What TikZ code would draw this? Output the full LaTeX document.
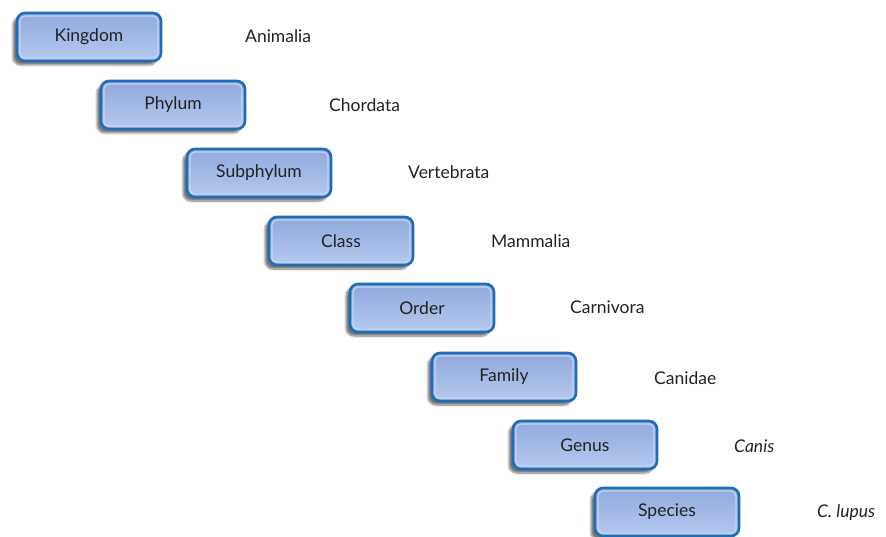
\documentclass[tikz,border=0pt]{standalone}
\usepackage{fontspec}
\setmainfont{Lato}
\usetikzlibrary{shadows.blur}
\definecolor{bordblue}{HTML}{1E6DB6}
\definecolor{filltop}{HTML}{90AADD}
\definecolor{fillbot}{HTML}{B6C8EE}
\definecolor{hilite}{HTML}{C4D3F2}
\definecolor{txt}{HTML}{222222}
\tikzset{
  rankbox/.style={draw=bordblue, line width=2.6pt, rounded corners=8pt,
    minimum width=144pt, minimum height=48pt,
    top color=filltop, bottom color=fillbot,
    font=\fontsize{17.5}{20}\selectfont, text=txt,
    blur shadow={shadow xshift=-4pt, shadow yshift=-4pt, shadow blur steps=8, shadow opacity=55},
    path picture={\draw[hilite, line width=1.2pt, rounded corners=5pt]
      ([xshift=3pt,yshift=-3pt]path picture bounding box.north west) rectangle
      ([xshift=-3pt,yshift=3pt]path picture bounding box.south east);}},
  taxon/.style={anchor=west, inner sep=0pt, font=\fontsize{17.5}{20}\selectfont, text=txt},
}
\begin{document}
\begin{tikzpicture}[x=1pt,y=-1pt]
\useasboundingbox (0,0) rectangle (886,537);
\node[rankbox] (kingdom) at (89,37) {Kingdom};
\node[rankbox] (phylum) at (173,105) {Phylum};
\node[rankbox] (subphylum) at (259,173) {Subphylum};
\node[rankbox] (class) at (341,241) {Class};
\node[rankbox] (order) at (422,308) {Order};
\node[rankbox] (family) at (504,377) {Family};
\node[rankbox] (genus) at (585,445) {Genus};
\node[rankbox] (species) at (667,512) {Species};
\node[taxon] (animalia) at (245,36) {Animalia};
\node[taxon] (chordata) at (329,105) {Chordata};
\node[taxon] (vertebrata) at (408,172) {Vertebrata};
\node[taxon] (mammalia) at (491,241) {Mammalia};
\node[taxon] (carnivora) at (570,307) {Carnivora};
\node[taxon] (canidae) at (654,378) {Canidae};
\node[taxon] (canis) at (734,446) {\itshape Canis};
\node[taxon] (clupus) at (817,513) {\itshape C. lupus};
\end{tikzpicture}
\end{document}
